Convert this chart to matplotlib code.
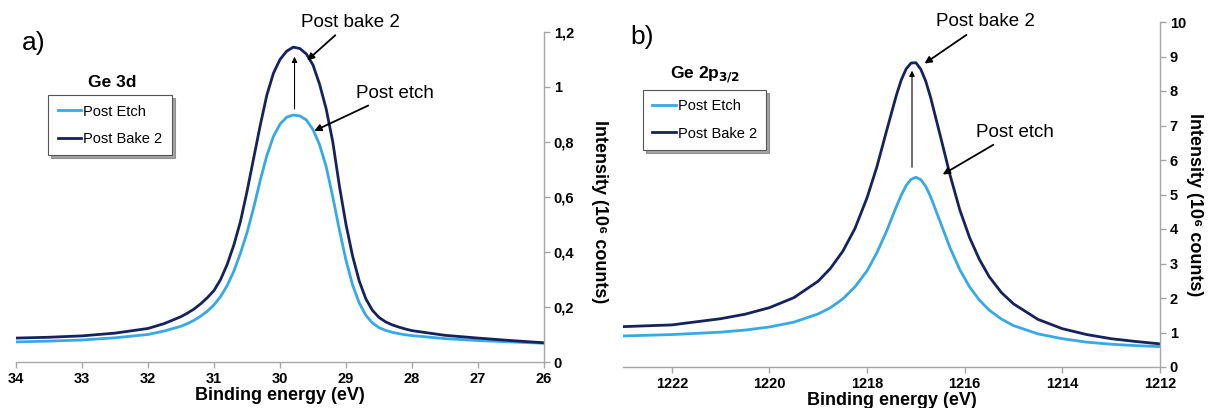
import matplotlib
matplotlib.use("Agg")
import matplotlib.pyplot as plt

plt.rcParams['font.family'] = ['Liberation Sans', 'DejaVu Sans']

# ---- Data: Ge 3d ----
be_3d = [34.0, 33.5, 33.0, 32.5, 32.0, 31.75,
         31.5, 31.4, 31.3, 31.2, 31.1, 31.0, 30.9, 30.8, 30.7, 30.6,
         30.5, 30.4, 30.3, 30.2, 30.1, 30.0, 29.9, 29.8, 29.7, 29.6,
         29.5, 29.4, 29.3, 29.2, 29.1, 29.0, 28.9, 28.8, 28.7, 28.6,
         28.5, 28.4, 28.3, 28.2, 28.1, 28.0,
         27.5, 27.0, 26.5, 26.0]
etch_3d = [0.073, 0.076, 0.080, 0.088, 0.100, 0.113,
           0.130, 0.140, 0.152, 0.167, 0.185, 0.208, 0.238, 0.278, 0.330, 0.395,
           0.470, 0.560, 0.660, 0.750, 0.820, 0.865, 0.890, 0.898, 0.895, 0.880,
           0.845, 0.790, 0.710, 0.600, 0.480, 0.370, 0.280, 0.215, 0.170, 0.142,
           0.125, 0.115, 0.108, 0.103, 0.099, 0.096,
           0.085, 0.078, 0.073, 0.068]
bake_3d = [0.087, 0.090, 0.095, 0.105, 0.122, 0.140,
           0.165, 0.178, 0.193, 0.212, 0.234, 0.260, 0.300, 0.355, 0.425, 0.510,
           0.620, 0.740, 0.860, 0.970, 1.050, 1.100, 1.130, 1.145, 1.140, 1.120,
           1.080, 1.010, 0.920, 0.800, 0.640, 0.500, 0.385, 0.295, 0.230, 0.188,
           0.162, 0.146, 0.135, 0.127, 0.120, 0.114,
           0.097, 0.087, 0.078, 0.070]

# ---- Data: Ge 2p3/2 ----
be_2p = [1223.0, 1222.0, 1221.0, 1220.5, 1220.0, 1219.5, 1219.0, 1218.75, 1218.5, 1218.25,
         1218.0, 1217.8, 1217.6, 1217.4, 1217.3, 1217.2, 1217.1, 1217.0, 1216.9, 1216.8,
         1216.7, 1216.5, 1216.3, 1216.1, 1215.9, 1215.7, 1215.5, 1215.25, 1215.0, 1214.5,
         1214.0, 1213.5, 1213.0, 1212.5, 1212.0]
etch_2p = [0.90, 0.94, 1.01, 1.07, 1.16, 1.30, 1.54, 1.72, 1.97, 2.32, 2.79, 3.31, 3.94, 4.65,
           4.98, 5.26, 5.44, 5.50, 5.43, 5.24, 4.94, 4.20, 3.45, 2.82, 2.32, 1.94, 1.65, 1.39,
           1.20, 0.96, 0.82, 0.72, 0.66, 0.62, 0.59]
bake_2p = [1.17, 1.22, 1.40, 1.53, 1.72, 2.01, 2.49, 2.86, 3.35, 4.01, 4.91, 5.80, 6.85, 7.88,
           8.32, 8.64, 8.81, 8.82, 8.63, 8.29, 7.82, 6.70, 5.56, 4.55, 3.75, 3.12, 2.62, 2.16,
           1.83, 1.38, 1.11, 0.94, 0.82, 0.74, 0.67]

labels = ["Post Etch", "Post Bake 2"]
light = "#36A9E6"
dark = "#15235C"
gray = "#A6A6A6"

fig = plt.figure(figsize=(12.13, 4.08), dpi=100)
ax1 = fig.add_axes([16/1213, 46/408, 528/1213, 330/408])
ax2 = fig.add_axes([623/1213, 41/408, 537/1213, 345/408])


def style(ax, xlim, ylim, xticks, yticks, ytl, ylab_xy):
    ax.set_xlim(*xlim)
    ax.set_ylim(*ylim)
    for s in ("top", "left"):
        ax.spines[s].set_visible(False)
    for s in ("bottom", "right"):
        ax.spines[s].set_color(gray)
        ax.spines[s].set_linewidth(1.0)
    ax.yaxis.tick_right()
    ax.yaxis.set_label_position("right")
    ax.set_xticks(xticks)
    ax.set_xticklabels([str(t) for t in xticks], fontweight="bold", fontsize=10.5)
    ax.set_yticks(yticks)
    ax.set_yticklabels(ytl, fontweight="bold", fontsize=10.5)
    ax.tick_params(axis="both", color=gray, length=4, width=1, pad=3)
    ax.set_xlabel("Binding energy (eV)", fontweight="bold", fontsize=13, labelpad=1)
    ax.set_ylabel("Intensity (10\u2076 counts)", fontweight="bold", fontsize=13,
                  rotation=270)
    ax.yaxis.set_label_coords(*ylab_xy)
    ax.yaxis.label.set_ha("center")
    ax.yaxis.label.set_va("center")


# Left panel
ax1.plot(be_3d, etch_3d, color=light, lw=2, label=labels[0])
ax1.plot(be_3d, bake_3d, color=dark, lw=2, label=labels[1])
style(ax1, (34, 26), (0, 1.2), list(range(34, 25, -1)),
      [0, 0.2, 0.4, 0.6, 0.8, 1.0, 1.2], ["0", "0,2", "0,4", "0,6", "0,8", "1", "1,2"],
      (1.106, 0.455))

# Right panel
ax2.plot(be_2p, etch_2p, color=light, lw=2, label=labels[0])
ax2.plot(be_2p, bake_2p, color=dark, lw=2, label=labels[1])
style(ax2, (1223, 1212), (0, 10), list(range(1222, 1211, -2)),
      list(range(0, 11)), [str(i) for i in range(0, 11)], (1.065, 0.47))

# legends
for ax, anchor, title, tpos in [
        (ax1, (0.061, 0.809), "Ge 3d", (0.182, 0.848)),
        (ax2, (0.037, 0.803), "Ge 2p$_{\\mathbf{3/2}}$", (0.153, 0.846))]:
    leg = ax.legend(loc="upper left", bbox_to_anchor=anchor, fontsize=10.5,
                    frameon=True, fancybox=False, shadow=True, edgecolor="#555555",
                    handlelength=1.6, handletextpad=0.15, labelspacing=0.9,
                    borderpad=0.65, borderaxespad=0)
    leg.get_frame().set_linewidth(0.8)
    ax.text(tpos[0], tpos[1], title, transform=ax.transAxes, ha="center", va="center",
            fontsize=12.5, fontweight="bold")

# annotations left
akw = dict(arrowstyle="-|>", color="black", lw=1.3, mutation_scale=10)
ax1.annotate("Post bake 2", xy=(29.62, 1.09), xytext=(28.94, 1.236), ha="center", va="center",
             fontsize=13.5, arrowprops=akw, annotation_clip=False)
ax1.annotate("Post etch", xy=(29.52, 0.836), xytext=(28.26, 0.978), ha="center", va="center",
             fontsize=13.5, arrowprops=akw, annotation_clip=False)
ax1.annotate("", xy=(29.78, 1.12), xytext=(29.78, 0.91),
             arrowprops=dict(arrowstyle="-|>", color="black", lw=0.8, mutation_scale=8))

# annotations right
ax2.annotate("Post bake 2", xy=(1216.87, 8.75), xytext=(1215.58, 10.0), ha="center", va="center",
             fontsize=13.5, arrowprops=akw, annotation_clip=False)
ax2.annotate("Post etch", xy=(1216.50, 5.54), xytext=(1214.97, 6.81), ha="center", va="center",
             fontsize=13.5, arrowprops=akw, annotation_clip=False)
ax2.annotate("", xy=(1217.08, 8.67), xytext=(1217.08, 5.71),
             arrowprops=dict(arrowstyle="-|>", color="black", lw=0.8, mutation_scale=8))

fig.text(22/1213, 1 - 43/408, "a)", fontsize=19, ha="left", va="center")
fig.text(630/1213, 1 - 37/408, "b)", fontsize=19, ha="left", va="center")

fig.savefig("out.png", dpi=100)
